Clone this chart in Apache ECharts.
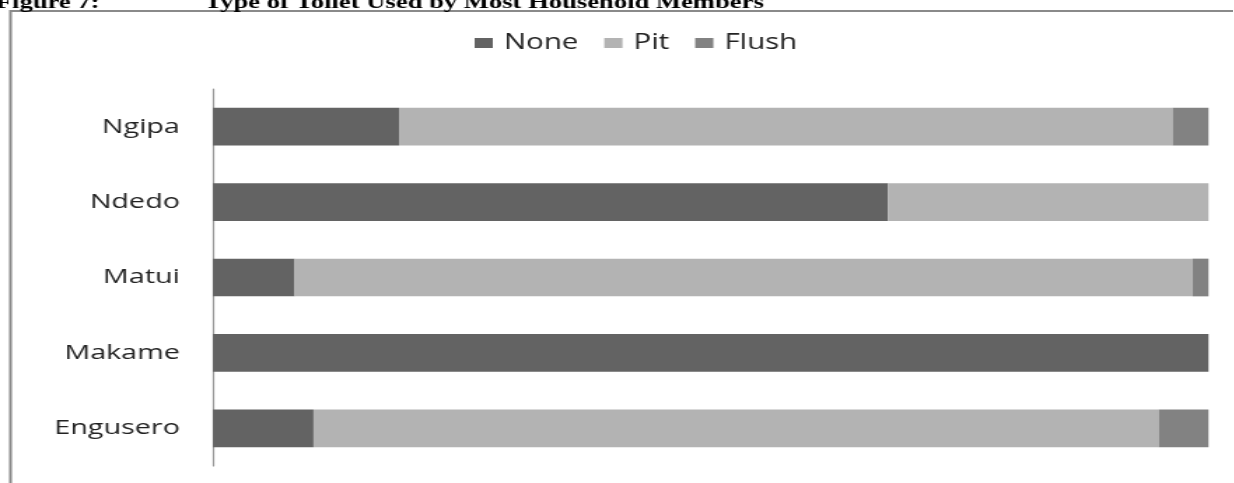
<!DOCTYPE html>
<html>
<head>
<meta charset="utf-8">
<script src="https://cdn.jsdelivr.net/npm/echarts@6/dist/echarts.min.js"></script>
<style>
  html, body { margin: 0; padding: 0; background: #fff; overflow: hidden; }
  #page { width: 1234px; height: 483px; position: relative; overflow: hidden; }
  /* the figure is drawn at a narrower width and widened horizontally */
  #chart { width: 881.43px; height: 483px; transform: scaleX(1.4); transform-origin: 0 0; }
</style>
</head>
<body>
<div id="page"><div id="chart"></div></div>
<script>
// Share of households by toilet type (percent), bottom to top
const villages = ['Engusero', 'Makame', 'Matui', 'Ndedo', 'Ngipa'];
const noneShare = [10.1, 100, 8.2, 67.8, 18.7];
const pitShare = [84.9, 0, 90.2, 32.2, 77.7];
const flushShare = [5.0, 0, 1.6, 0, 3.6];
const seriesNames = ['None', 'Pit', 'Flush'];
const figureLabel = 'Figure 7:';
const figureTitle = 'Type of Toilet Used by Most Household Members';

const chart = echarts.init(document.getElementById('chart'), null, { renderer: 'canvas' });
const W = 881.43;

function barSeries(name, data, color) {
  return {
    name: name,
    type: 'bar',
    stack: 'total',
    data: data,
    barCategoryGap: '50%',
    itemStyle: { color: color },
    emphasis: { disabled: true },
    animation: false
  };
}

const titleFont = { fontFamily: 'Liberation Serif', fontWeight: 'bold', fontSize: 19, color: '#000', lineHeight: 19 };

chart.setOption({
  animation: false,
  backgroundColor: '#fff',
  title: [
    { text: figureLabel, left: -3, top: -6, padding: 0, textStyle: titleFont },
    { text: figureTitle, left: 146, top: -6, padding: 0, textStyle: titleFont }
  ],
  graphic: [
    {
      type: 'polyline',
      silent: true,
      shape: { points: [[7.5, 500], [7.5, 11], [W + 10, 11]] },
      style: { stroke: '#8a8a8a', lineWidth: 2, fill: null }
    }
  ],
  legend: {
    data: seriesNames,
    left: 339,
    top: 32.5,
    itemWidth: 13,
    itemHeight: 10,
    itemGap: 18.5,
    icon: 'rect',
    padding: 0,
    selectedMode: false,
    textStyle: { fontFamily: 'Open Sans', fontSize: 21, color: '#222', lineHeight: 21, padding: [0, 0, 0, 3] }
  },
  grid: { left: 152.1, right: 17.8, top: 89, bottom: 17, containLabel: false },
  xAxis: {
    type: 'value',
    min: 0,
    max: 100,
    show: false
  },
  yAxis: {
    type: 'category',
    data: villages,
    axisLine: { show: true, lineStyle: { color: '#999', width: 1.2 } },
    axisTick: { show: false },
    axisLabel: { margin: 23.6, fontFamily: 'Open Sans', fontSize: 20.5, color: '#222' },
    splitLine: { show: false }
  },
  series: [
    barSeries(seriesNames[0], noneShare, '#636363'),
    barSeries(seriesNames[1], pitShare, '#b3b3b3'),
    barSeries(seriesNames[2], flushShare, '#828282')
  ]
});
</script>
</body>
</html>
